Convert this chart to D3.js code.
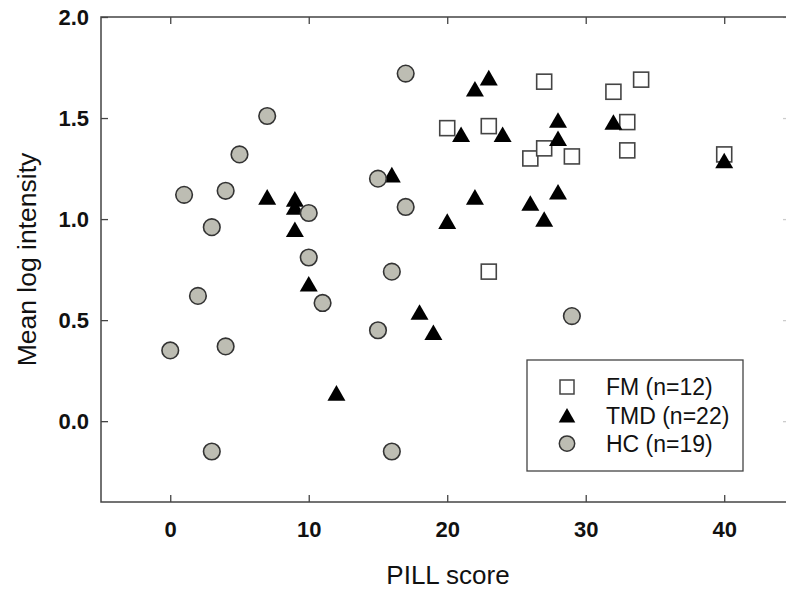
<!DOCTYPE html>
<html lang="en">
<head>
    <meta charset="UTF-8">
    <title>Mean log intensity vs PILL score</title>
    <script src="https://d3js.org/d3.v7.min.js"></script>
    <style>
        body { margin: 0; background: #fff; }
        text { font-family: 'Liberation Sans', Arial, sans-serif; fill: #111; }
    </style>
</head>
<body>
    <svg width="786" height="591"></svg>

    <script type="text/javascript">
        // Data
        const fmPill = [20, 23, 23, 26, 27, 27, 29, 32, 33, 33, 34, 40];
        const fmIntensity = [1.45, 1.46, 0.74, 1.30, 1.68, 1.35, 1.31, 1.63, 1.48, 1.34, 1.69, 1.32];

        const tmdPill = [7, 9, 9, 9, 10, 12, 16, 18, 19, 20, 21, 22, 22, 23, 24, 26, 27, 28, 28, 28, 32, 40];
        const tmdIntensity = [1.11, 1.10, 1.06, 0.95, 0.68, 0.14, 1.22, 0.54, 0.44, 0.99, 1.42, 1.645, 1.11, 1.70, 1.42, 1.08, 1.00, 1.49, 1.40, 1.135, 1.48, 1.29];

        const hcPill = [0, 1, 2, 3, 3, 4, 4, 5, 7, 10, 10, 11, 15, 15, 16, 16, 17, 17, 29];
        const hcIntensity = [0.35, 1.12, 0.62, 0.96, -0.15, 1.14, 0.37, 1.32, 1.51, 1.03, 0.81, 0.585, 1.20, 0.45, 0.74, -0.15, 1.72, 1.06, 0.52];

        const xTicks = [0, 10, 20, 30, 40];
        const yTicks = [0, 0.5, 1.0, 1.5, 2.0];
        const legendLabels = ['FM (n=12)', 'TMD (n=22)', 'HC (n=19)'];

        const svg = d3.select('svg');

        // plot box; the right side of the original figure is cropped
        const box = { left: 101, right: 790, top: 17, bottom: 502 };

        const x = d3.scaleLinear()
            .domain([-5, 44.75])
            .range([box.left, box.right]);

        const y = d3.scaleLinear()
            .domain([-0.4, 2.0])
            .range([box.bottom, box.top]);

        const zip = (xs, ys) => xs.map((v, i) => ({ x: v, y: ys[i] }));

        // triangle centred on its bounding box
        const triangle = {
            draw(context, size) {
                const s = Math.sqrt(size / (Math.sqrt(3) / 4));
                const h = s * Math.sqrt(3) / 2;
                context.moveTo(0, -h / 2);
                context.lineTo(s / 2, h / 2);
                context.lineTo(-s / 2, h / 2);
                context.closePath();
            }
        };

        // Axes (ticks point inwards)
        const styleAxis = g => {
            g.select('.domain').remove();
            g.selectAll('line').attr('stroke', '#444').attr('stroke-width', 1.3);
            g.selectAll('text')
                .style('font-size', '22px')
                .style('font-weight', 'bold')
                .attr('fill', '#111');
        };

        svg.append('g')
            .attr('transform', `translate(0,${box.bottom})`)
            .call(d3.axisBottom(x).tickValues(xTicks).tickSizeInner(-7).tickSizeOuter(0).tickPadding(19))
            .call(styleAxis);

        svg.append('g')
            .attr('transform', `translate(0,${box.top})`)
            .call(d3.axisTop(x).tickValues(xTicks).tickSizeInner(-7).tickSizeOuter(0).tickFormat(''))
            .call(styleAxis);

        svg.append('g')
            .attr('transform', `translate(${box.left},0)`)
            .call(d3.axisLeft(y).tickValues(yTicks).tickSizeInner(-7).tickSizeOuter(0).tickPadding(12).tickFormat(d3.format('.1f')))
            .call(styleAxis);

        svg.append('g')
            .attr('transform', `translate(${box.right},0)`)
            .call(d3.axisRight(y).tickValues(yTicks).tickSizeInner(-7).tickSizeOuter(0).tickFormat(''))
            .call(g => { styleAxis(g); g.selectAll('line').attr('stroke', '#ccc'); });

        svg.append('rect')
            .attr('x', box.left)
            .attr('y', box.top)
            .attr('width', box.right - box.left)
            .attr('height', box.bottom - box.top)
            .attr('fill', 'none')
            .attr('stroke', '#444')
            .attr('stroke-width', 1.5);

        // Axis titles
        svg.append('text')
            .attr('x', 448)
            .attr('y', 584)
            .attr('text-anchor', 'middle')
            .style('font-size', '26px')
            .text('PILL score');

        svg.append('text')
            .attr('transform', `translate(36,${(box.top + box.bottom) / 2}) rotate(-90)`)
            .attr('text-anchor', 'middle')
            .style('font-size', '26.5px')
            .text('Mean log intensity');

        // Points: FM squares, TMD triangles, HC circles
        svg.append('g')
            .selectAll('rect')
            .data(zip(fmPill, fmIntensity))
            .join('rect')
            .attr('x', d => x(d.x) - 7.5)
            .attr('y', d => y(d.y) - 7.5)
            .attr('width', 15)
            .attr('height', 15)
            .attr('fill', '#fff')
            .attr('stroke', '#444')
            .attr('stroke-width', 1.6);

        svg.append('g')
            .selectAll('path')
            .data(zip(tmdPill, tmdIntensity))
            .join('path')
            .attr('transform', d => `translate(${x(d.x)},${y(d.y)})`)
            .attr('d', d3.symbol().type(triangle).size(140))
            .attr('fill', '#000');

        svg.append('g')
            .selectAll('circle')
            .data(zip(hcPill, hcIntensity))
            .join('circle')
            .attr('cx', d => x(d.x))
            .attr('cy', d => y(d.y))
            .attr('r', 8.3)
            .attr('fill', '#bdbdb3')
            .attr('stroke', '#333')
            .attr('stroke-width', 1.6);

        // Legend
        const legend = svg.append('g').attr('transform', 'translate(527,360)');

        legend.append('rect')
            .attr('width', 216)
            .attr('height', 111)
            .attr('fill', '#fff')
            .attr('stroke', '#444')
            .attr('stroke-width', 1.3);

        const rows = legend.selectAll('.row')
            .data(legendLabels)
            .join('g')
            .attr('class', 'row')
            .attr('transform', (d, i) => `translate(40,${27 + i * 28.3})`);

        rows.filter((d, i) => i === 0).append('rect')
            .attr('x', -7).attr('y', -7).attr('width', 14).attr('height', 14)
            .attr('fill', '#fff').attr('stroke', '#444').attr('stroke-width', 1.5);

        rows.filter((d, i) => i === 1).append('path')
            .attr('d', d3.symbol().type(triangle).size(120))
            .attr('fill', '#000');

        rows.filter((d, i) => i === 2).append('circle')
            .attr('r', 7.7)
            .attr('fill', '#bdbdb3').attr('stroke', '#333').attr('stroke-width', 1.5);

        rows.append('text')
            .attr('x', 39)
            .attr('dy', '0.36em')
            .style('font-size', '23px')
            .text(d => d);
    </script>
</body>
</html>
